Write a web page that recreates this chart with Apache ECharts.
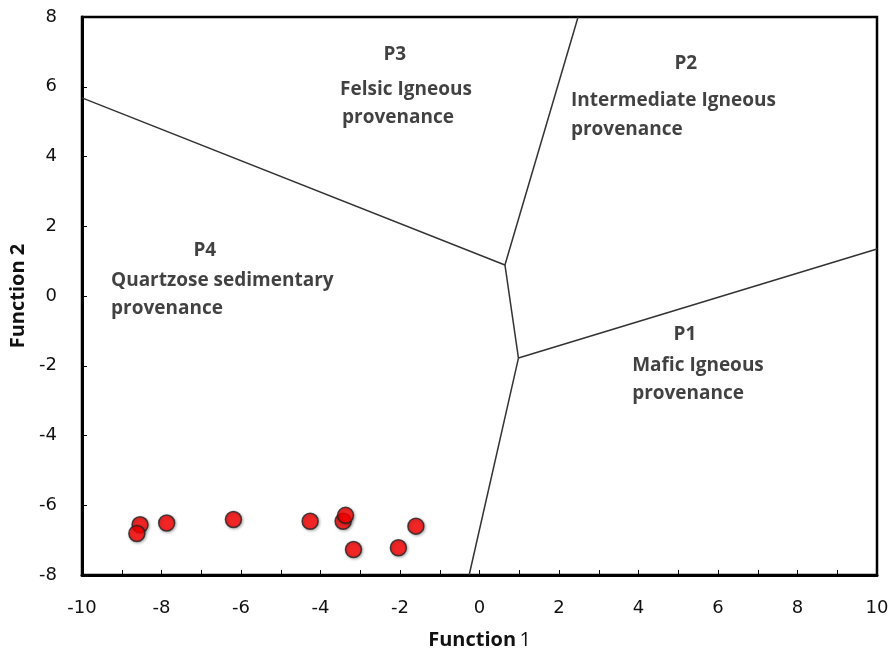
<!DOCTYPE html>
<html>
<head>
<meta charset="utf-8">
<script src="https://cdn.jsdelivr.net/npm/echarts@6/dist/echarts.min.js"></script>
<style>
html,body{margin:0;padding:0;background:#fff;}
#chart{width:893px;height:655px;}
</style>
</head>
<body>
<div id="chart"></div>
<script>
// sample points (Function 1, Function 2)
var samplesX = [-8.54, -8.62, -7.87, -6.19, -4.26, -3.43, -3.37, -3.17, -2.04, -1.60];
var samplesY = [-6.56, -6.81, -6.51, -6.41, -6.46, -6.46, -6.29, -7.27, -7.22, -6.60];

// field boundaries
var lineP3P4 = [[-10, 5.68], [0.64, 0.89]];
var lineP2P3 = [[0.64, 0.89], [2.48, 8]];
var lineMid = [[0.64, 0.89], [0.98, -1.78]];
var lineP1P2 = [[0.98, -1.78], [10, 1.35]];
var lineP1P4 = [[0.98, -1.78], [-0.26, -8]];

// field labels: text, x, y, align
var fieldText = ['P3', 'Felsic Igneous', 'provenance',
	'P2', 'Intermediate Igneous', 'provenance',
	'P4', 'Quartzose sedimentary', 'provenance',
	'P1', 'Mafic Igneous', 'provenance'];
var fieldX = [-2.13, -1.85, -2.05, 5.19, 2.30, 2.30, -6.91, -9.27, -9.27, 5.17, 3.84, 3.84];
var fieldY = [6.91, 5.91, 5.11, 6.65, 5.59, 4.76, 1.30, 0.44, -0.37, -1.11, -2.00, -2.80];
var fieldAlign = ['center', 'center', 'center', 'center', 'left', 'left', 'center', 'left', 'left', 'center', 'left', 'left'];

var charts = echarts.init(document.getElementById('chart'));

var pts = [];
for (var i = 0; i < samplesX.length; i++) {
	pts.push([samplesX[i], samplesY[i]]);
}
var labels = [];
for (var j = 0; j < fieldText.length; j++) {
	labels.push({
		value: [fieldX[j], fieldY[j]],
		name: fieldText[j],
		label: { align: fieldAlign[j] }
	});
}

function boundary(d) {
	return {
		type: 'line',
		data: d,
		symbol: 'none',
		silent: true,
		lineStyle: { color: '#333', width: 1.5 },
		z: 2
	};
}

var option = {
	backgroundColor: '#fff',
	animation: false,
	grid: {
		left: 82,
		right: 16,
		top: 17,
		bottom: 80,
		outerBoundsMode: 'none',
		containLabel: false,
		show: true,
		borderColor: '#000',
		borderWidth: 2.5
	},
	xAxis: {
		type: 'value',
		min: -10,
		max: 10,
		interval: 2,
		name: '{b|Function} {n|1}',
		nameLocation: 'middle',
		nameGap: 55,
		nameTextStyle: {
			rich: {
				b: { fontFamily: 'Open Sans', fontWeight: 'bold', fontSize: 20, color: '#111' },
				n: { fontFamily: 'Open Sans', fontSize: 20, color: '#111' }
			}
		},
		axisLine: { onZero: false, lineStyle: { color: '#000', width: 3 } },
		axisTick: { inside: true, length: 5, lineStyle: { color: '#000', width: 1 } },
		minorTick: { show: true, splitNumber: 2, length: 5, lineStyle: { color: '#000', width: 1 } },
		axisLabel: { margin: 24, fontFamily: 'DejaVu Sans', fontSize: 18, color: '#111' },
		splitLine: { show: false }
	},
	yAxis: {
		type: 'value',
		min: -8,
		max: 8,
		interval: 2,
		name: 'Function 2',
		nameLocation: 'middle',
		nameGap: 52,
		nameTextStyle: { fontFamily: 'Open Sans', fontWeight: 'bold', fontSize: 20, color: '#111' },
		axisLine: { onZero: false, lineStyle: { color: '#000', width: 3 } },
		axisTick: { inside: true, length: 5, lineStyle: { color: '#000', width: 1 } },
		axisLabel: { margin: 25, fontFamily: 'DejaVu Sans', fontSize: 18, color: '#111' },
		splitLine: { show: false }
	},
	series: [
		boundary(lineP3P4),
		boundary(lineP2P3),
		boundary(lineMid),
		boundary(lineP1P2),
		boundary(lineP1P4),
		{
			type: 'scatter',
			data: labels,
			symbolSize: 0,
			silent: true,
			label: {
				show: true,
				position: 'inside',
				formatter: '{b}',
				fontFamily: 'Open Sans',
				fontWeight: 'bold',
				fontSize: 19,
				color: '#111',
				verticalAlign: 'middle'
			},
			z: 3
		},
		{
			type: 'scatter',
			data: pts,
			symbol: 'circle',
			symbolSize: 16,
			itemStyle: {
				color: '#ff0000',
				borderColor: '#222',
				borderWidth: 1.5,
				shadowColor: 'rgba(0,0,0,0.35)',
				shadowBlur: 3,
				shadowOffsetX: 1,
				shadowOffsetY: 1
			},
			z: 4
		}
	]
};
charts.setOption(option);
</script>
</body>
</html>
